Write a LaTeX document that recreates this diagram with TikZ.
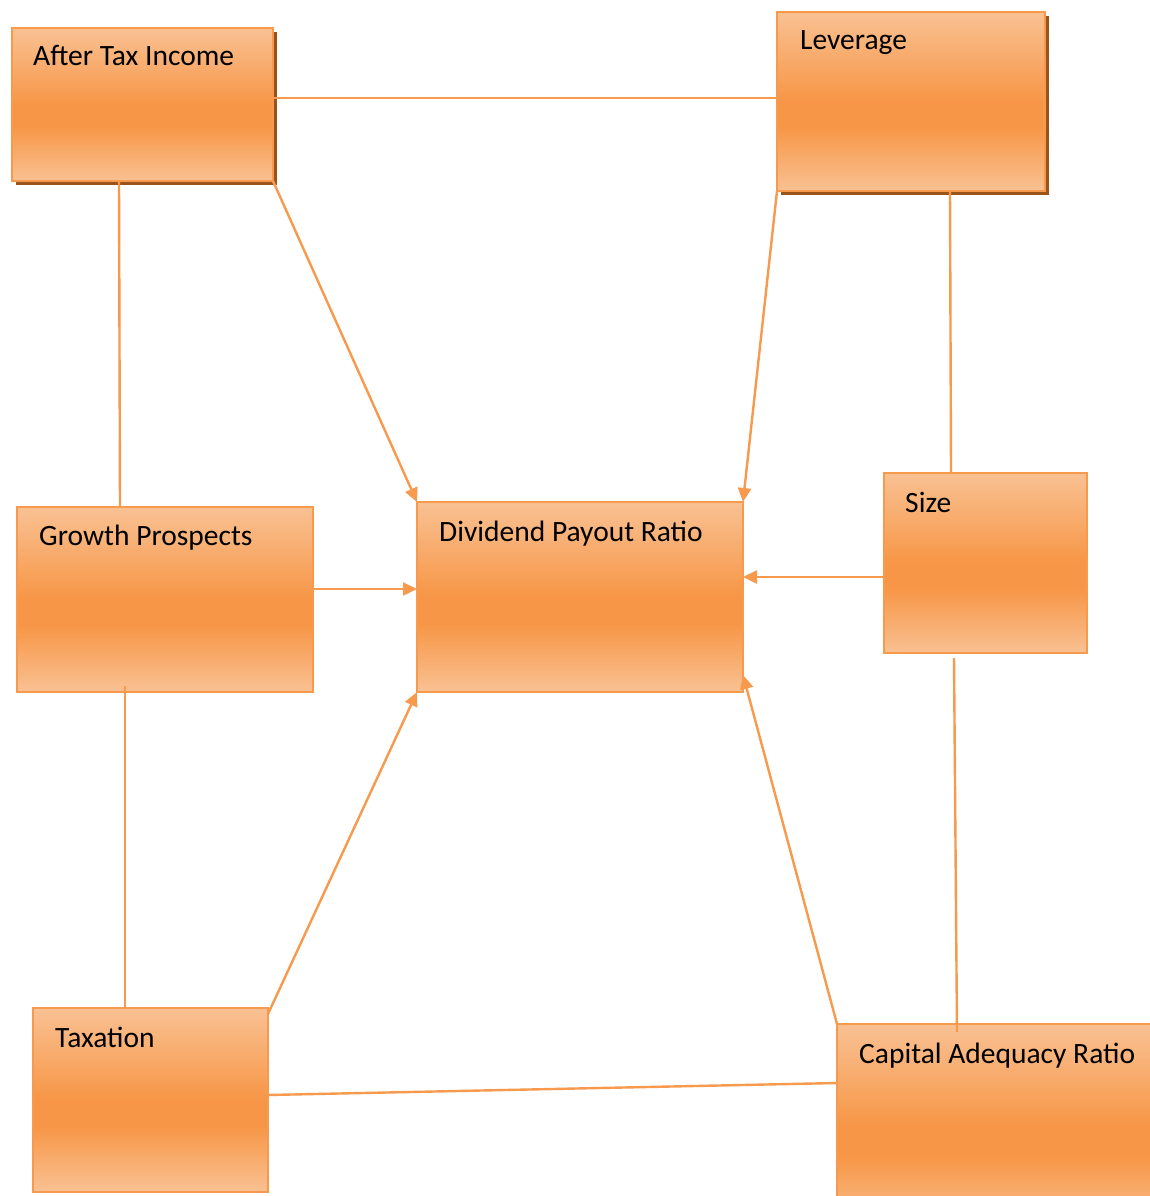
\documentclass[tikz,border=0pt]{standalone}
\usepackage{fontspec}
\setmainfont{Carlito}
\usetikzlibrary{arrows.meta,shadows,calc}
\definecolor{olight}{HTML}{F9C193}
\definecolor{odark}{HTML}{F79646}
\definecolor{oline}{HTML}{F79A4E}
\definecolor{shadowbrown}{HTML}{9A5419}
\pgfdeclareverticalshading{orshade}{100bp}{color(0bp)=(olight); color(25bp)=(olight); color(43bp)=(odark); color(50bp)=(odark); color(75bp)=(olight); color(100bp)=(olight)}
\tikzset{
  box/.style={draw=oline, line width=2.2pt, shading=orshade, minimum width=#1, inner sep=0pt, outer sep=0pt},
  shbox/.style={box=#1, drop shadow={shadow xshift=4pt, shadow yshift=-4pt, fill=shadowbrown, opacity=1}},
  lbl/.style={anchor=base west, inner sep=0pt, font=\fontsize{29.5}{31}\selectfont, text=black},
  conn/.style={draw=oline, line width=2.4pt},
  arr/.style={conn, -{Triangle[length=14pt,width=13pt]}}
}
\begin{document}
\begin{tikzpicture}[x=1pt,y=-1pt]
\clip (0,0) rectangle (1150,1196);
\fill[white] (0,0) rectangle (1150,1196);
% boxes
\node[shbox=261pt, minimum height=153pt] (ati) at (142.5,104.5) {};
\node[shbox=268pt, minimum height=179pt] (lev) at (911,101.5) {};
\node[box=326pt, minimum height=190pt] (dpr) at (580,597) {};
\node[box=203pt, minimum height=180pt] (size) at (985.5,563) {};
\node[box=296pt, minimum height=185pt] (gp) at (165,599.5) {};
\node[box=235pt, minimum height=184pt] (tax) at (150.5,1100) {};
\node[box=333pt, minimum height=206pt] (car) at (1003.5,1127) {};
% labels
\node[lbl] (tati) at ($(ati.north west)+(21,38)$) {After Tax Income};
\node[lbl] (tlev) at ($(lev.north west)+(23,38)$) {Leverage};
\node[lbl] (tdpr) at ($(dpr.north west)+(22,39)$) {Dividend Payout Ratio};
\node[lbl] (tsize) at ($(size.north west)+(21,39)$) {Size};
\node[lbl] (tgp) at ($(gp.north west)+(22,38)$) {Growth Prospects};
\node[lbl] (ttax) at ($(tax.north west)+(22,39)$) {Taxation};
\node[lbl] (tcar) at ($(car.north west)+(22,39)$) {Capital Adequacy Ratio};
% connectors
\draw[conn] ([yshift=6.5pt]ati.east) -- ([yshift=3.5pt]lev.west);
\draw[conn] ([xshift=-23.5pt]ati.south) -- ([xshift=-45pt]gp.north);
\draw[arr] (ati.south east) -- (dpr.north west);
\draw[arr] (lev.south west) -- (dpr.north east);
\draw[conn] ([xshift=39pt]lev.south) -- ([xshift=-34.5pt]size.north);
\draw[arr] ([yshift=10.5pt]gp.east) -- ([yshift=10.5pt]gp.east -| dpr.west);
\draw[arr] ([yshift=-14pt]size.west) -- ([yshift=-14pt]size.west -| dpr.east);
\draw[conn] ([xshift=-40pt,yshift=6pt]gp.south) -- ([xshift=-40pt]gp.south |- tax.north);
\draw[arr] ([yshift=-6pt]tax.north east) -- (dpr.south west);
\draw[arr] (car.north west) -- ([yshift=17pt]dpr.south east);
\draw[conn] ([xshift=-31.5pt,yshift=-5pt]size.south) -- ([xshift=-46.5pt,yshift=-8pt]car.north);
\draw[conn] ([yshift=5pt]tax.east) -- ([yshift=44pt]car.west);
\end{tikzpicture}
\end{document}
